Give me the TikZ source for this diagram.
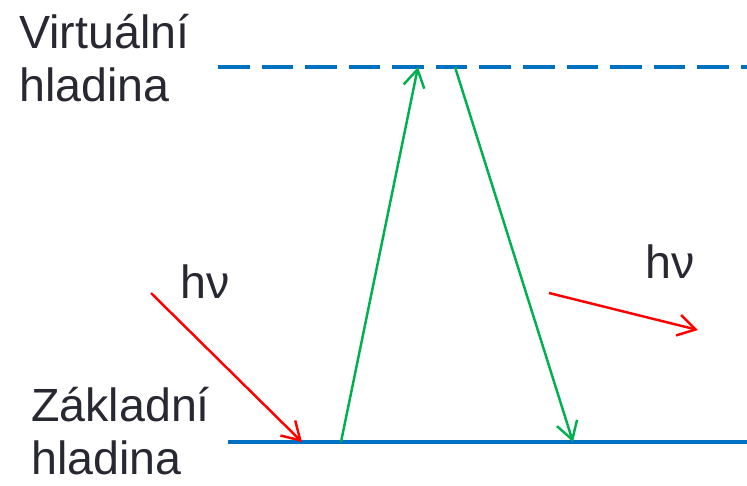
\documentclass[tikz,border=0pt]{standalone}
\usepackage{fontspec}
\setmainfont{Liberation Sans}
\usetikzlibrary{arrows.meta}
\definecolor{levelblue}{RGB}{0,112,192}
\definecolor{transgreen}{RGB}{0,176,80}
\definecolor{photonred}{RGB}{255,0,0}
\definecolor{textgray}{RGB}{40,40,50}
\begin{document}
\begin{tikzpicture}[
  x=0.02cm, y=-0.02cm,
  level/.style={levelblue, line width=2.2pt},
  transition/.style={transgreen, line width=1.4pt, -{Straight Barb[length=10pt,width=12pt,line width=1.4pt]}},
  photon/.style={photonred, line width=1.4pt, -{Straight Barb[length=10pt,width=12pt,line width=1.4pt]}},
  label/.style={textgray, inner sep=0, align=left, font=\fontsize{26.5}{30}\selectfont}
]
\useasboundingbox (0,0) rectangle (747,485);
\node[label, anchor=base west] (virt) at (19,101) {Virtuální\\hladina};
\node[label, anchor=base west] (zakl) at (31,474) {Základní\\hladina};
\coordinate (vl) at (218,67);
\coordinate (vr) at (747,67);
\coordinate (zl) at (228,442);
\coordinate (zr) at (747,442);
\draw[level, dash pattern=on 18pt off 6.8pt] (vl) -- (vr);
\draw[level] (zl) -- (zr);
\coordinate (up0) at (341,442);
\coordinate (up1) at (418,67);
\coordinate (dn0) at (455,67);
\coordinate (dn1) at (573,442);
\draw[transition] (up0) -- (up1);
\draw[transition] (dn0) -- (dn1);
\coordinate (in0) at (151,293);
\coordinate (in1) at (302,442);
\coordinate (out0) at (549,293);
\coordinate (out1) at (698,330);
\draw[photon] (in0) -- (in1);
\draw[photon] (out0) -- (out1);
\node[label, anchor=base west] (hvin) at (180,298) {hν};
\node[label, anchor=base west] (hvout) at (645,278) {hν};
\end{tikzpicture}
\end{document}
